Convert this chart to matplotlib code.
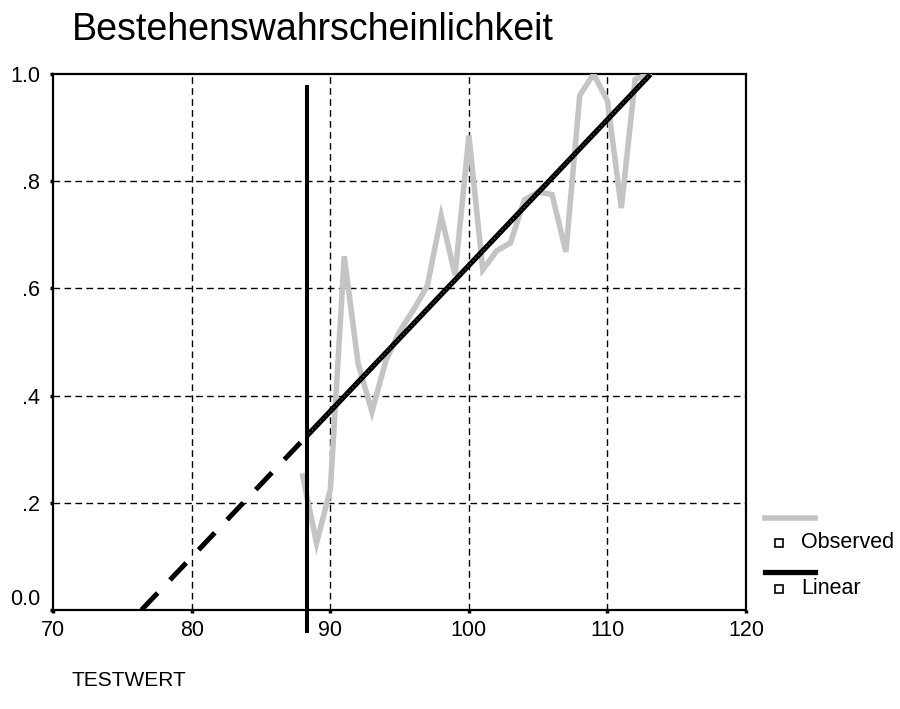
import matplotlib
matplotlib.use("Agg")
import matplotlib.pyplot as plt
from matplotlib.lines import Line2D
from matplotlib.transforms import ScaledTranslation
import numpy as np

plt.rcParams['font.family'] = ['Liberation Sans', 'DejaVu Sans']

# Observed pass rate per test score
testwert = [88, 89, 90, 91, 92, 93, 94, 95, 96, 97, 98, 99, 100,
            101, 102, 103, 104, 105, 106, 107, 108, 109, 110, 111, 112, 113]
observed = [0.25, 0.125, 0.225, 0.66, 0.46, 0.37, 0.465, 0.52, 0.56, 0.605,
            0.735, 0.625, 0.885, 0.635, 0.67, 0.685, 0.765, 0.78, 0.775,
            0.668, 0.96, 1.0, 0.95, 0.75, 0.99, 1.0]

# Linear fit: probability = intercept + slope * score
lin_intercept = -2.077
lin_slope = 0.0272
cutoff = 88.3          # reference score (vertical marker)
x_zero = -lin_intercept / lin_slope
x_end = 113.1

x_ticks = [70, 80, 90, 100, 110, 120]
y_ticks = [0.0, 0.2, 0.4, 0.6, 0.8, 1.0]
y_ticklabels = ['0.0', '.2', '.4', '.6', '.8', '1.0']

fig = plt.figure(figsize=(9, 7.09), dpi=100)
ax = fig.add_axes([53.3 / 900, 99 / 709, (746 - 53.3) / 900, (610 - 74) / 709])

ax.set_xlim(70, 120)
ax.set_ylim(0, 1.0)

# dashed grid
for gx in x_ticks[1:-1]:
    ax.axvline(gx, color='black', lw=1.0, dashes=(4.8, 3.1), zorder=1)
for gy in y_ticks[1:-1]:
    ax.axhline(gy, color='black', lw=1.0, dashes=(4.8, 3.1), zorder=1)

# observed series
ax.plot(testwert, observed, color='#c4c4c4', lw=4.0, solid_joinstyle='miter',
        zorder=3)

# linear fit: extrapolated (dashed) and fitted range (solid)
xd = np.array([x_zero, cutoff])
ax.plot(xd, lin_intercept + lin_slope * xd, color='black', lw=3.6,
        dashes=(4.7, 3.6), dash_capstyle='butt', zorder=4)
xs = np.array([cutoff, x_end])
ax.plot(xs, lin_intercept + lin_slope * xs, color='black', lw=3.8,
        solid_capstyle='butt', zorder=4)
ax.plot(xs, lin_intercept + lin_slope * xs, color='#6a6a6a', lw=0.8,
        dashes=(1, 2.5), zorder=5)

# reference score marker
ax.plot([cutoff, cutoff], [0.979, -0.043], color='black', lw=2.9,
        solid_capstyle='butt', clip_on=False, zorder=6)

for sp in ax.spines.values():
    sp.set_color('black')
    sp.set_linewidth(1.6)

ax.set_xticks(x_ticks)
ax.set_xticklabels([str(v) for v in x_ticks])
ax.set_yticks(y_ticks)
ax.set_yticklabels(y_ticklabels)
ax.tick_params(axis='both', direction='out', length=2.5, width=2.5,
               labelsize=15.5, colors='black')
ax.tick_params(axis='x', pad=5)
ax.tick_params(axis='y', pad=7)

# lift the bottom y label clear of the x axis
lab0 = ax.get_yticklabels()[0]
lab0.set_transform(lab0.get_transform() +
                   ScaledTranslation(0, 0.13, fig.dpi_scale_trans))

fig.text(72 / 900, 1 - 30 / 709, 'Bestehenswahrscheinlichkeit',
         fontsize=27, ha='left', va='center')
fig.text(72 / 900, 1 - 681 / 709, 'TESTWERT', fontsize=15,
         ha='left', va='center')

# legend
def fx(px):
    return px / 900

def fy(py):
    return 1 - py / 709

fig.add_artist(Line2D([fx(765), fx(815)], [fy(518), fy(518)],
                      color='#c4c4c4', lw=4.0, transform=fig.transFigure))
fig.add_artist(Line2D([fx(765), fx(815)], [fy(572), fy(572)],
                      color='black', lw=3.8, transform=fig.transFigure))
for py, txt in [(543, 'Observed'), (589, 'Linear')]:
    fig.add_artist(Line2D([fx(779)], [fy(py)], marker='s', markersize=5.5,
                          markerfacecolor='white', markeredgecolor='black',
                          markeredgewidth=1.2, linestyle='none',
                          transform=fig.transFigure))
    fig.text(fx(801), fy(py), txt, fontsize=15.5, ha='left', va='center')

fig.savefig('out.png', dpi=100)
